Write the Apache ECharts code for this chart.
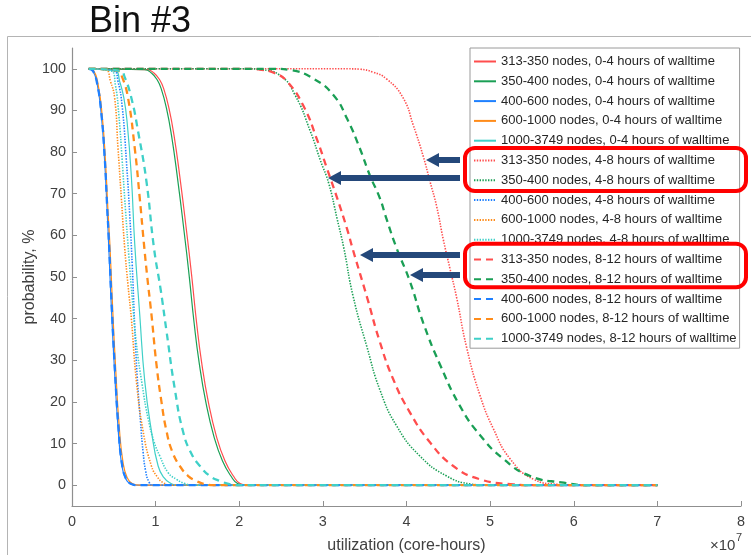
<!DOCTYPE html>
<html>
<head>
<meta charset="utf-8">
<script src="https://cdn.jsdelivr.net/npm/echarts@6/dist/echarts.min.js"></script>
<style>
html,body{margin:0;padding:0;background:#fff;}
#c{width:751px;height:555px;}
</style>
</head>
<body>
<div id="c"></div>
<script>
// x values in units of 10^7 core-hours, y in %
const xTicks = [0, 1, 2, 3, 4, 5, 6, 7, 8];
const yTicks = [0, 10, 20, 30, 40, 50, 60, 70, 80, 90, 100];

const names = [
  '313-350 nodes, 0-4 hours of walltime',
  '350-400 nodes, 0-4 hours of walltime',
  '400-600 nodes, 0-4 hours of walltime',
  '600-1000 nodes, 0-4 hours of walltime',
  '1000-3749 nodes, 0-4 hours of walltime',
  '313-350 nodes, 4-8 hours of walltime',
  '350-400 nodes, 4-8 hours of walltime',
  '400-600 nodes, 4-8 hours of walltime',
  '600-1000 nodes, 4-8 hours of walltime',
  '1000-3749 nodes, 4-8 hours of walltime',
  '313-350 nodes, 8-12 hours of walltime',
  '350-400 nodes, 8-12 hours of walltime',
  '400-600 nodes, 8-12 hours of walltime',
  '600-1000 nodes, 8-12 hours of walltime',
  '1000-3749 nodes, 8-12 hours of walltime'
];

const r04 = [[0.2,100],[0.9,99.8],[0.98,99],[1.05,97.3],[1.1,95],[1.16,90.5],[1.22,84],[1.29,74],[1.37,61],[1.43,50.5],[1.49,39],[1.55,29.5],[1.63,20],[1.73,11.5],[1.83,5.8],[1.93,2.2],[2.01,0.4],[2.1,0],[7,0]];
const g04 = [[0.2,100],[0.87,99.8],[0.95,99],[1.02,97.3],[1.07,95],[1.13,90.5],[1.19,84],[1.26,74],[1.34,61],[1.4,50.5],[1.46,39],[1.52,29.5],[1.6,20],[1.7,11.5],[1.8,5.8],[1.9,2.2],[1.98,0.4],[2.07,0],[7,0]];
const b04 = [[0.2,100],[0.25,99.5],[0.3,96.5],[0.35,89],[0.39,78],[0.42,66],[0.44,57],[0.47,43],[0.51,27],[0.55,14],[0.59,5.5],[0.64,1.6],[0.7,0.3],[0.78,0],[7,0]];
const o04 = [[0.2,100],[0.26,99.5],[0.31,96.5],[0.36,89],[0.4,78],[0.43,66],[0.455,57],[0.485,43],[0.525,27],[0.565,14],[0.61,5.5],[0.66,1.8],[0.72,0.4],[0.8,0],[7,0]];
const c04 = [[0.2,100],[0.52,99.5],[0.57,97],[0.62,93],[0.66,87],[0.71,74],[0.75,58],[0.81,41],[0.87,25],[0.95,13],[1.03,4.6],[1.1,1.8],[1.17,0.6],[1.25,0],[7,0]];

const r48 = [[0.2,100],[3.3,100],[3.44,99.9],[3.6,99.2],[3.76,97.6],[3.96,93],[4.08,86.5],[4.2,79],[4.28,73],[4.36,67],[4.44,59],[4.52,52],[4.6,45],[4.72,33],[4.88,21.5],[5.04,13.5],[5.24,6.3],[5.52,1.4],[5.8,0.2],[6.0,0],[7,0]];
const g48 = [[0.2,100],[2.1,100],[2.25,99.8],[2.49,98.4],[2.67,93.6],[2.85,85],[2.97,78],[3.07,72.5],[3.17,64],[3.25,57],[3.36,45.5],[3.53,33],[3.68,23],[3.88,14.3],[4.16,7],[4.48,2.2],[4.76,0.3],[4.95,0],[7,0]];
const b48 = [[0.2,100],[0.5,99.5],[0.55,97],[0.6,91],[0.65,78],[0.69,65],[0.72,53],[0.75,38],[0.78,26],[0.82,15],[0.85,8],[0.88,3.5],[0.92,0.8],[0.97,0],[7,0]];
const o48 = [[0.2,100],[0.4,99.8],[0.46,97],[0.51,93],[0.55,81],[0.59,69],[0.63,57],[0.67,48],[0.71,40],[0.77,25],[0.85,13],[0.95,4.6],[1.02,2],[1.09,0.6],[1.2,0],[7,0]];
const c48 = [[0.2,100],[0.47,99.5],[0.52,96],[0.56,89],[0.6,78],[0.64,66],[0.68,55],[0.72,45],[0.77,34],[0.84,24],[0.91,16],[0.98,10.5],[1.05,7],[1.15,3],[1.25,1.4],[1.35,0.4],[1.45,0],[7,0]];

const r812 = [[0.2,100],[2.1,100],[2.25,99.8],[2.42,99],[2.57,97],[2.77,91],[2.93,83],[3.05,76],[3.17,69],[3.29,61.5],[3.36,56.5],[3.53,45],[3.68,34.5],[3.84,25.5],[4.04,17.5],[4.28,10.3],[4.56,4.6],[4.88,1.4],[5.28,0.2],[5.5,0],[7,0]];
const g812 = [[0.2,100],[2.4,100],[2.61,99.7],[2.89,97.6],[3.13,93.6],[3.29,88],[3.44,81],[3.56,74.5],[3.68,69],[3.76,64],[3.88,57],[4.04,49],[4.2,39],[4.4,29],[4.64,19],[4.88,12],[5.16,6.3],[5.48,2.2],[5.88,0.6],[6.2,0],[7,0]];
const b812 = [[0.2,100],[0.25,99.5],[0.3,96.5],[0.35,89.5],[0.39,79],[0.42,67],[0.445,57],[0.475,43],[0.515,27],[0.555,14],[0.595,5.5],[0.645,1.6],[0.71,0.3],[0.79,0],[7,0]];
const o812 = [[0.2,100],[0.55,99.5],[0.6,98],[0.67,93],[0.75,81],[0.81,69],[0.86,58],[0.9,50],[0.95,41],[1.01,29],[1.07,20],[1.13,13],[1.2,8],[1.29,4.6],[1.39,2.2],[1.49,1],[1.6,0.2],[1.7,0],[7,0]];
const c812 = [[0.2,100],[0.58,99.5],[0.63,98],[0.71,93],[0.79,85],[0.89,73],[0.98,57],[1.06,47],[1.13,37],[1.23,23],[1.33,12.7],[1.43,7.5],[1.53,4.6],[1.65,2.2],[1.77,1],[1.9,0.2],[2.0,0],[7,0]];

const seriesData = [r04, g04, b04, o04, c04, r48, g48, b48, o48, c48, r812, g812, b812, o812, c812];

const colors = ['#ff4d4d', '#1a9f55', '#1f80ff', '#ff8c1a', '#3fd0c8'];
const FONT = 'Liberation Sans, Arial, sans-serif';

function styleFor(i) {
  const group = Math.floor(i / 5);
  if (group === 0) return { width: 1.2, type: 'solid' };
  if (group === 1) return { width: 1.6, type: [1.4, 1.4] };
  return { width: 2.3, type: [7, 5] };
}

const series = seriesData.map((d, i) => {
  const s = styleFor(i);
  return {
    name: names[i],
    type: 'line',
    data: d,
    symbol: 'none',
    smooth: 0.5,
    clip: true,
    lineStyle: { color: colors[i % 5], width: s.width, type: s.type },
    itemStyle: { color: colors[i % 5] },
    emphasis: { disabled: true },
    animation: false
  };
});

function arrow(tx, ty) {
  const hl = 13, hh = 7, sh = 3, tail = 460;
  return {
    type: 'polygon', z: 100,
    shape: { points: [[tx, ty], [tx + hl, ty - hh], [tx + hl, ty - sh], [tail, ty - sh], [tail, ty + sh], [tx + hl, ty + sh], [tx + hl, ty + hh]] },
    style: { fill: '#24487a' }
  };
}

const chart = echarts.init(document.getElementById('c'), null, { renderer: 'canvas' });
chart.setOption({
  backgroundColor: '#fff',
  animation: false,
  grid: { left: 72, right: 10, top: 48, bottom: 49, outerBoundsMode: 'none' },
  xAxis: {
    type: 'value', min: xTicks[0], max: xTicks[xTicks.length - 1], interval: 1,
    name: 'utilization (core-hours)', nameLocation: 'middle', nameGap: 32, nameMoveOverlap: false,
    nameTextStyle: { fontSize: 16, color: '#404040', fontFamily: FONT },
    axisLine: { show: true, onZero: false, lineStyle: { color: '#8f8f8f', width: 1.2 } },
    axisTick: { show: true, inside: true, length: 5, lineStyle: { color: '#8f8f8f' } },
    axisLabel: { fontSize: 14.4, color: '#404040', fontFamily: FONT, margin: 9 },
    splitLine: { show: false }
  },
  yAxis: {
    type: 'value', min: -5, max: 105,
    name: 'probability, %', nameLocation: 'middle', nameGap: 34, nameRotate: 90, nameMoveOverlap: false,
    nameTextStyle: { fontSize: 16, color: '#404040', fontFamily: FONT },
    axisLine: { show: true, onZero: false, lineStyle: { color: '#8f8f8f', width: 1.2 } },
    axisTick: { show: true, inside: true, length: 5, customValues: yTicks, lineStyle: { color: '#8f8f8f' } },
    axisLabel: { fontSize: 14.4, color: '#404040', fontFamily: FONT, margin: 6, customValues: yTicks },
    splitLine: { show: false }
  },
  legend: {
    orient: 'vertical', left: 470, top: 48,
    itemWidth: 22, itemHeight: 13, itemGap: 6.8,
    padding: [7, 3, 3, 3],
    backgroundColor: '#fff', borderColor: '#9a9a9a', borderWidth: 1,
    itemStyle: { color: 'rgba(0,0,0,0)', borderColor: 'rgba(0,0,0,0)', borderWidth: 0, opacity: 0 },
    textStyle: { fontSize: 13, lineHeight: 13, color: '#262626', fontFamily: FONT },
    data: names,
    selectedMode: false
  },
  series: series,
  graphic: [
    { type: 'rect', z: -1, silent: true, shape: { x: 7.5, y: 36.5, width: 800, height: 600 }, style: { fill: 'none', stroke: '#b4b4b4', lineWidth: 1 } },
    { type: 'text', z: 100, style: { x: 89, y: 22.5, text: 'Bin #3', fontSize: 36, fontFamily: FONT, fill: '#111', textVerticalAlign: 'middle' } },
    { type: 'text', z: 100, style: { x: 710, y: 546, text: '×10', fontSize: 15, fontFamily: FONT, fill: '#404040', textVerticalAlign: 'middle' } },
    { type: 'text', z: 100, style: { x: 736, y: 538, text: '7', fontSize: 11, fontFamily: FONT, fill: '#404040', textVerticalAlign: 'middle' } },
    arrow(426, 160), arrow(328, 178), arrow(360, 255), arrow(410, 275),
    { type: 'rect', z: 100, shape: { x: 465, y: 148, width: 281, height: 43, r: 10 }, style: { fill: 'none', stroke: '#ff0000', lineWidth: 4 } },
    { type: 'rect', z: 100, shape: { x: 465, y: 243.7, width: 281, height: 43.6, r: 10 }, style: { fill: 'none', stroke: '#ff0000', lineWidth: 4 } }
  ]
});
</script>
</body>
</html>
